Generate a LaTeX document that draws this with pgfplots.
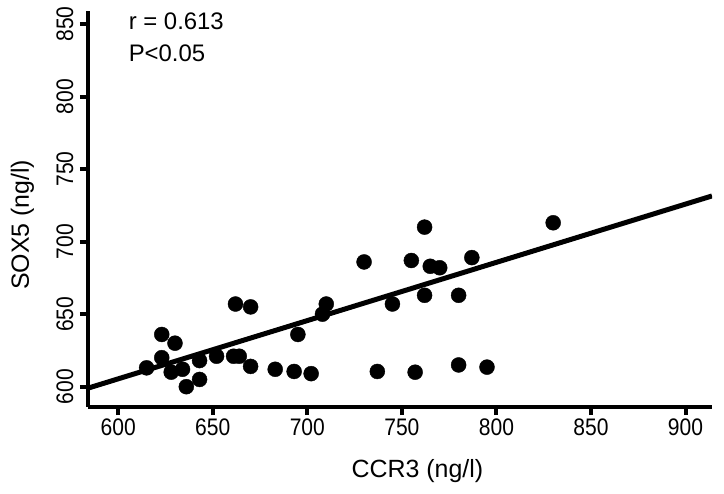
\documentclass[border=0pt]{standalone}
\usepackage{fontspec}
\setmainfont{Liberation Sans}
\newfontfamily\tickfont[FakeStretch=0.88]{Liberation Sans}
\usepackage{pgfplots}
\pgfplotsset{compat=1.18}
\begin{document}
\begin{tikzpicture}
\path[use as bounding box] (0,0) rectangle (724bp,494bp);
\begin{axis}[
  at={(88bp,87bp)}, anchor=south west,
  scale only axis, width=624bp, height=396bp,
  xmin=584, xmax=914, ymin=586, ymax=859,
  axis lines*=left,
  axis line style={line width=4.5bp, black},
  xtick={600,650,...,900}, ytick={600,650,...,850},
  tick align=outside, major tick length=8bp,
  tick style={line width=4bp, black},
  ticklabel style={font=\tickfont\fontsize{24}{26}\selectfont},
  /pgf/number format/assume math mode=true,
  yticklabel style={xshift=-3bp, rotate=90, anchor=south},
  xlabel={CCR3 (ng/l)}, ylabel={SOX5 (ng/l)},
  label style={font=\fontsize{25}{27}\selectfont},
  xlabel style={at={(axis description cs:0.528,-0.162)}, anchor=center},
  ylabel style={at={(axis description cs:-0.105,0.46)}, anchor=center},
]
\addplot[black, line width=5bp] coordinates {(584,599) (914,731.5)};
\addplot[only marks, mark=*, mark size=7.5bp, black] coordinates {
(615,613) (623,636) (630,630) (623,620) (628,610) (634,612) (636,600)
(643,618) (643,605) (652,621) (661,621) (664,621) (662,657) (670,655)
(670,614) (683,612) (693,610.5) (702,609) (695,636) (708,650) (710,657)
(730,686) (737,610.5) (745,657) (755,687) (757,610) (762,710) (762,663)
(765,683) (770,682) (780,663) (780,615) (787,689) (795,613.5) (830,713)
};
\node[anchor=north west, inner sep=0pt, align=left, font=\fontsize{24}{32}\selectfont]
  at (axis description cs:0.065,0.995) {r = 0.613\\P<0.05};
\end{axis}
\end{tikzpicture}
\end{document}
